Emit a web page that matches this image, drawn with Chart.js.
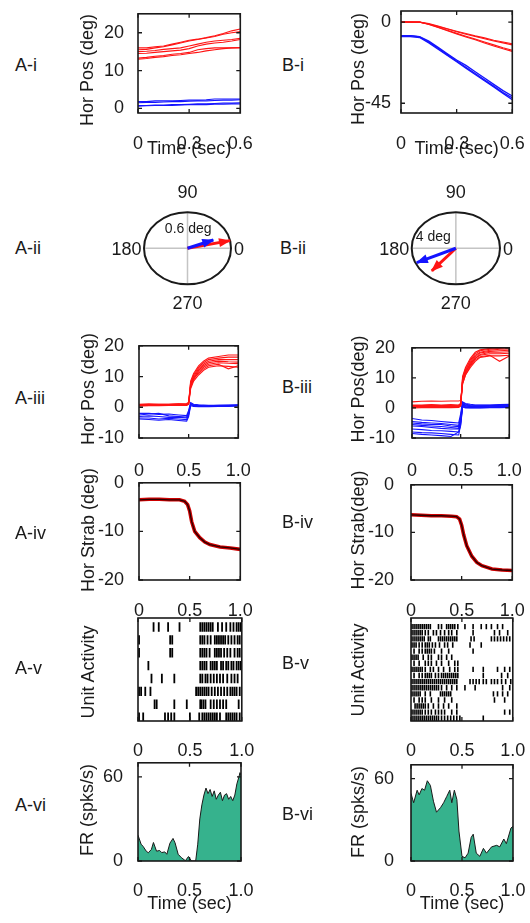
<!DOCTYPE html>
<html>
<head>
<meta charset="utf-8">
<script src="https://cdn.jsdelivr.net/npm/chart.js@4.4.1/dist/chart.umd.min.js"></script>
<style>
  body { margin: 0; background: #fff; }
  #fig { position: relative; width: 530px; height: 923px; overflow: hidden; }
  #fig canvas { position: absolute; }
  .lbl { position: absolute; font: 18px 'Liberation Sans', Arial, sans-serif; line-height: 18px; color: #1a1a1a; white-space: nowrap; }
  .ytl { transform: translate(-50%, -50%) rotate(-90deg); }
</style>
</head>
<body>
<div id="fig"></div>
<script>
// ---- i: horizontal position during the first 0.6 s ----
const I_T = [0, 0.05, 0.1, 0.15, 0.2, 0.25, 0.3, 0.35, 0.4, 0.45, 0.5, 0.55, 0.6];
const I_XTICKS = [0, 0.3, 0.6];
const AI_YTICKS = [0, 10, 20];
const BI_YTICKS = [-45, 0];
const AI_RED = [
  [16, 16, 16.3, 16.5, 17, 17.5, 18, 18.3, 18.7, 19.2, 19.8, 20.5, 21],
  [15.5, 15.6, 16, 16.3, 16.8, 17.3, 17.8, 18.2, 18.6, 19, 19.6, 20, 20.3],
  [15, 15.1, 15.3, 15.6, 15.8, 16, 16.5, 17, 17.5, 17.8, 18, 18.2, 18.5],
  [14.5, 14.6, 14.8, 15, 15.2, 15.4, 15.8, 16.5, 17, 17.3, 17.5, 17.8, 18.2],
  [13, 13.2, 13.5, 13.7, 14, 14.2, 14.5, 14.8, 15.2, 15.5, 15.8, 16, 16.1],
  [13.3, 13.5, 13.8, 14, 14.3, 14.5, 14.8, 15.5, 15.8, 16, 16, 16, 16]
];
const AI_BLUE = [
  [1.8, 1.8, 2, 2, 2, 2.1, 2.2, 2.2, 2.3, 2.5, 2.5, 2.5, 2.5],
  [1.5, 1.6, 1.6, 1.7, 1.8, 1.8, 1.9, 2, 2, 2.1, 2.2, 2.2, 2.3],
  [0.8, 0.8, 0.9, 0.9, 1, 1, 1.1, 1.2, 1.2, 1.3, 1.4, 1.4, 1.5],
  [0.6, 0.7, 0.8, 0.8, 0.8, 0.9, 1, 1, 1, 1.1, 1.1, 1.2, 1.2]
];
const BI_RED = [
  [0, 0, 0, -0.8, -2.2, -3.6, -5, -6.3, -7.6, -8.7, -10, -11, -12],
  [0, 0, 0, -1, -2.4, -3.8, -5.3, -6.7, -8, -9.2, -10.4, -11.5, -12.6],
  [0, 0, 0, -1.2, -2.8, -4.5, -6.2, -7.8, -9.3, -11, -12.6, -14.2, -15.6],
  [0.2, 0.2, 0.1, -1.3, -3, -4.8, -6.5, -8.2, -9.8, -11.5, -13.2, -14.8, -16.2]
];
const BI_BLUE = [
  [-7.5, -7.5, -8, -10.5, -14, -17.5, -21, -24, -27.5, -31, -34.5, -38, -41],
  [-7.5, -7.5, -8.2, -11, -14.5, -18, -21.5, -25, -28.5, -32, -35.5, -39, -42],
  [-8, -8, -8.5, -11.5, -15, -18.5, -22, -25.5, -29, -32.5, -36, -39.5, -43]
];

// ---- ii: mean drift vectors (deg) ----
const AII_RADIUS = 0.6;
const AII_RED = [0.586, 0.127];
const AII_BLUE = [0.356, 0.138];
const BII_RADIUS = 4;
const BII_RED = [-2.18, -2.52];
const BII_BLUE = [-3.54, -1.6];

// ---- iii: horizontal position around the 0.5 s step ----
const T_XTICKS = [0, 0.5, 1];
const III_YTICKS = [-10, 0, 10, 20];
const III_T = [0, 0.1, 0.2, 0.3, 0.4, 0.48, 0.5, 0.52, 0.55, 0.6, 0.65, 0.7, 0.8, 0.9, 1.0];
const AIII_RED = [
  [0.8, 0.8, 0.9, 0.8, 0.8, 0.9, 1.5, 8.5, 11, 13.5, 15, 16, 16.5, 17, 17],
  [0.6, 0.7, 0.7, 0.8, 0.7, 0.8, 1.2, 8, 10.5, 13, 14.5, 15.5, 16, 16.3, 16.3],
  [1, 1.1, 1, 1, 1.1, 1, 1.5, 7.5, 10, 12.5, 14, 15, 15.5, 15.5, 15.5],
  [0.5, 0.6, 0.6, 0.7, 0.6, 0.7, 1, 7, 9.5, 12, 13.5, 14.5, 15, 14.8, 14.7],
  [0.7, 0.7, 0.8, 0.8, 0.9, 0.8, 1.2, 6.5, 9, 11.5, 13, 14, 14.5, 14.3, 14.2],
  [0.9, 0.9, 1, 1, 1.1, 1.2, 1.6, 7, 9.5, 11, 12.5, 13.5, 14, 12.5, 13.5],
  [0.4, 0.5, 0.5, 0.6, 0.6, 0.6, 1, 6, 8.5, 10.5, 12, 13, 13.5, 13.3, 13]
];
const AIII_BLUE = [
  [-2, -2, -2.3, -2.2, -2.5, -2.7, -1, 1.5, 1, 0.8, 0.7, 0.6, 0.6, 0.7, 0.8],
  [-2.5, -2.2, -2, -2.8, -3, -3.2, -1.5, 1.2, 0.8, 0.6, 0.5, 0.5, 0.6, 0.6, 0.7],
  [-3, -2.8, -3, -3.3, -3.2, -3.5, -2, 1, 0.6, 0.5, 0.4, 0.4, 0.5, 0.5, 0.6],
  [-3.5, -3.5, -3.8, -3.6, -3.8, -4, -2.5, 0.8, 0.5, 0.4, 0.3, 0.3, 0.4, 0.4, 0.5],
  [-3.8, -4, -4.2, -4, -4.3, -4.5, -3, 0.5, 0.3, 0.2, 0.2, 0.2, 0.3, 0.3, 0.4]
];
const BIII_RED = [
  [0.5, 0.5, 0.6, 0.5, 0.6, 0.6, 1, 10, 13, 16, 18, 19, 19.5, 19.8, 20],
  [0.8, 0.8, 0.9, 0.8, 0.8, 0.9, 1.3, 9.5, 12.5, 15.5, 17.5, 18.5, 19.2, 19.5, 19.6],
  [0.2, 0.3, 0.3, 0.2, 0.3, 0.4, 0.8, 9, 12, 15, 17, 18.3, 18.8, 19, 19.2],
  [1, 1, 1.1, 1, 1.1, 1, 1.5, 8.5, 11.5, 14.5, 16.5, 17.8, 18.5, 18.5, 18.7],
  [0.4, 0.4, 0.4, 0.5, 0.4, 0.5, 0.9, 9, 12, 14.5, 16.5, 17.5, 18, 18, 18.2],
  [2, 2.2, 2.3, 2.2, 2.3, 2.3, 2.5, 8, 11, 14, 16, 17, 17.5, 15.5, 17.3],
  [0, 0.1, 0.1, 0.2, 0.1, 0.2, 0.6, 8, 11, 13.5, 15.5, 16.8, 17.3, 17.3, 17.5],
  [0.6, 0.6, 0.7, 0.7, 0.6, 0.7, 1.1, 10.5, 13.5, 16.5, 18.5, 19.3, 19.8, 20, 20]
];
const BIII_BLUE = [
  [-3.5, -4, -4.2, -4.5, -4.8, -5, -2, 2, 1.5, 1.2, 1, 1, 1, 1.1, 1.2],
  [-4.5, -4.8, -5, -5.2, -5.5, -5.8, -3, 1.8, 1.2, 1, 0.9, 0.9, 0.9, 1, 1],
  [-5, -5.3, -5.5, -5.5, -6, -6.2, -3.5, 1.5, 1, 0.8, 0.7, 0.7, 0.8, 0.8, 0.9],
  [-5.5, -5.8, -6, -6.2, -6.5, -6.8, -4, 1.3, 0.8, 0.6, 0.5, 0.5, 0.6, 0.6, 0.7],
  [-6, -6.2, -6.5, -6.8, -7, -7, -4.5, 1, 0.6, 0.5, 0.4, 0.4, 0.4, 0.5, 0.6],
  [-7, -7.2, -7.5, -7.6, -7.8, -8, -5, 0.8, 0.4, 0.3, 0.2, 0.2, 0.3, 0.3, 0.4],
  [-8, -8.2, -8.3, -8.5, -8.8, -9, -5.5, 0.5, 0.2, 0.1, 0.1, 0.1, 0.2, 0.2, 0.3],
  [-8.5, -8.8, -9, -9.2, -9.5, -8, -6, 0.3, 0, 0, 0, 0, 0.1, 0.1, 0.2]
];

// ---- iv: horizontal strabismus ----
const IV_YTICKS = [-20, -10, 0];
const IV_T = [0, 0.1, 0.2, 0.3, 0.4, 0.45, 0.48, 0.5, 0.52, 0.55, 0.6, 0.65, 0.7, 0.8, 0.9, 1.0];
const AIV_STRAB = [-3.5, -3.4, -3.4, -3.5, -3.5, -3.8, -4.5, -5.8, -8, -10, -11.3, -12.2, -12.7, -13.2, -13.4, -13.7];
const BIV_STRAB = [-6.3, -6.4, -6.5, -6.5, -6.6, -6.7, -7.2, -8.5, -10.5, -12.8, -15, -16.3, -17, -17.7, -17.9, -18];

// ---- v: spike rasters, one row per trial (spike times in s) ----
const AV_SPIKES = [
  [0.15, 0.2, 0.29, 0.4, 0.6, 0.62, 0.64, 0.66, 0.68, 0.7, 0.72, 0.77, 0.81, 0.85, 0.89, 0.92, 0.95, 0.97, 0.99],
  [0.01, 0.31, 0.33, 0.6, 0.62, 0.64, 0.67, 0.7, 0.74, 0.76, 0.78, 0.8, 0.82, 0.84, 0.87, 0.9, 0.93, 0.96, 0.98],
  [0.01, 0.31, 0.33, 0.6, 0.62, 0.64, 0.66, 0.69, 0.74, 0.76, 0.78, 0.8, 0.83, 0.86, 0.89, 0.93, 0.96, 0.98],
  [0.1, 0.6, 0.62, 0.64, 0.66, 0.7, 0.72, 0.74, 0.76, 0.8, 0.82, 0.85, 0.87, 0.9, 0.92, 0.95, 0.97, 0.99],
  [0.13, 0.23, 0.35, 0.6, 0.62, 0.65, 0.67, 0.7, 0.73, 0.76, 0.79, 0.82, 0.86, 0.9, 0.93, 0.96],
  [0.01, 0.03, 0.07, 0.12, 0.56, 0.58, 0.6, 0.62, 0.64, 0.66, 0.68, 0.71, 0.74, 0.77, 0.8, 0.83, 0.86, 0.89, 0.91, 0.93, 0.95, 0.98],
  [0.16, 0.18, 0.35, 0.47, 0.6, 0.61, 0.63, 0.65, 0.7, 0.73, 0.76, 0.79, 0.82, 0.85, 0.97],
  [0.01, 0.05, 0.26, 0.29, 0.32, 0.35, 0.5, 0.59, 0.62, 0.64, 0.66, 0.68, 0.7, 0.72, 0.74, 0.76, 0.79, 0.85, 0.87, 0.89, 0.91, 0.93, 0.95, 0.98]
];
const BV_SPIKES = [
  [0.01, 0.03, 0.05, 0.07, 0.09, 0.11, 0.13, 0.15, 0.17, 0.19, 0.27, 0.3, 0.35, 0.37, 0.39, 0.41, 0.43, 0.46, 0.53, 0.61, 0.69, 0.74, 0.79, 0.85, 0.9],
  [0.01, 0.03, 0.05, 0.07, 0.09, 0.11, 0.14, 0.17, 0.22, 0.25, 0.29, 0.33, 0.37, 0.4, 0.45, 0.61, 0.82, 0.87, 0.95],
  [0.01, 0.03, 0.05, 0.07, 0.09, 0.11, 0.13, 0.17, 0.19, 0.27, 0.29, 0.31, 0.33, 0.35, 0.37, 0.39, 0.41, 0.43, 0.45, 0.59, 0.62, 0.79, 0.82, 0.85, 0.88, 0.91, 0.94, 0.97],
  [0.01, 0.03, 0.05, 0.08, 0.11, 0.14, 0.16, 0.18, 0.21, 0.24, 0.28, 0.33, 0.36, 0.41, 0.58, 0.69],
  [0.03, 0.08, 0.11, 0.14, 0.16, 0.18, 0.2, 0.23, 0.3, 0.37, 0.61],
  [0.01, 0.03, 0.05, 0.07, 0.12, 0.17, 0.2, 0.27, 0.3, 0.35, 0.4],
  [0.03, 0.08, 0.14, 0.17, 0.2, 0.25, 0.3, 0.37, 0.43, 0.46],
  [0.01, 0.03, 0.05, 0.07, 0.09, 0.11, 0.14, 0.19, 0.22, 0.27, 0.32, 0.38, 0.43, 0.46, 0.61, 0.71, 0.85, 0.92, 0.97],
  [0.03, 0.08, 0.11, 0.14, 0.16, 0.18, 0.2, 0.24, 0.27, 0.3, 0.32, 0.34, 0.36, 0.38, 0.4, 0.42, 0.44, 0.46, 0.71, 0.89, 0.95],
  [0.01, 0.03, 0.05, 0.07, 0.09, 0.11, 0.13, 0.15, 0.17, 0.19, 0.21, 0.23, 0.25, 0.27, 0.29, 0.31, 0.33, 0.35, 0.37, 0.39, 0.41, 0.43, 0.45, 0.58, 0.61, 0.64, 0.67, 0.71, 0.74, 0.79, 0.82, 0.85, 0.89, 0.93, 0.98],
  [0.01, 0.03, 0.05, 0.07, 0.09, 0.11, 0.13, 0.15, 0.17, 0.19, 0.21, 0.23, 0.25, 0.27, 0.3, 0.35, 0.4, 0.45, 0.53, 0.63, 0.9, 0.97],
  [0.01, 0.03, 0.05, 0.07, 0.09, 0.14, 0.19, 0.29, 0.31, 0.33, 0.35, 0.37, 0.39, 0.81, 0.85, 0.9, 0.95],
  [0.03, 0.08, 0.11, 0.14, 0.2, 0.27, 0.33, 0.4, 0.82, 0.92],
  [0.04, 0.06, 0.08, 0.1, 0.12, 0.14, 0.17, 0.22, 0.27, 0.32, 0.37, 0.45],
  [0.01, 0.03, 0.05, 0.07, 0.09, 0.11, 0.14, 0.17, 0.2, 0.24, 0.27, 0.3, 0.33, 0.4, 0.45, 0.92, 0.97],
  [0.01, 0.03, 0.05, 0.07, 0.09, 0.11, 0.13, 0.15, 0.17, 0.19, 0.21, 0.23, 0.25, 0.27, 0.3, 0.33, 0.36, 0.39, 0.42, 0.45, 0.48, 0.71]
];

// ---- vi: firing rate (spks/s) ----
const VI_YTICKS = [0, 60];
const AVI_T = [0, 0.03, 0.05, 0.08, 0.1, 0.13, 0.15, 0.18, 0.21, 0.23, 0.26, 0.28, 0.31, 0.34, 0.36, 0.39, 0.42, 0.46, 0.49, 0.52, 0.56, 0.58, 0.6, 0.62, 0.64, 0.66, 0.68, 0.7, 0.72, 0.74, 0.76, 0.78, 0.8, 0.82, 0.84, 0.86, 0.88, 0.9, 0.92, 0.94, 0.96, 0.98, 0.99, 1.0];
const AVI_FR = [18.4, 12, 10.4, 7, 5.9, 8.2, 13.2, 7, 7.5, 6, 6.5, 4.8, 12.7, 16.1, 12.9, 4.8, 2.5, 0.2, 3.2, 0, 0, 12, 30, 40, 47, 52, 48, 51, 46, 50, 44, 47, 49, 43, 47, 48, 44, 46, 43, 47, 55, 60, 63, 61];
const BVI_T = [0, 0.026, 0.06, 0.08, 0.107, 0.133, 0.16, 0.19, 0.22, 0.25, 0.29, 0.32, 0.35, 0.38, 0.4, 0.425, 0.45, 0.47, 0.5, 0.53, 0.56, 0.59, 0.61, 0.64, 0.675, 0.71, 0.74, 0.79, 0.84, 0.87, 0.91, 0.935, 0.98, 1.0];
const BVI_FR = [49.2, 42.4, 51.5, 48.1, 52.7, 51.5, 58.4, 55, 43.5, 35.5, 38.9, 42.4, 46.9, 51.5, 42.4, 51.5, 44.7, 21.8, 3.4, 2.3, 5.7, 17.2, 19.5, 5.7, 3.4, 9.2, 5.7, 10.3, 11.4, 10.3, 16, 12.6, 24, 25.2];

const RED = 'rgb(255,20,20)';
const BLUE = 'rgb(20,20,255)';
const GREEN = 'rgb(54,178,141)';
const INK = '#1a1a1a';
const FONT = "'Liberation Sans', Arial, sans-serif";

Chart.defaults.font.family = FONT;
Chart.defaults.font.size = 18;
Chart.defaults.color = INK;

const fig = document.getElementById('fig');

function addCanvas(l, t, w, h) {
  const c = document.createElement('canvas');
  c.width = w; c.height = h;
  c.style.left = l + 'px'; c.style.top = t + 'px';
  c.style.width = w + 'px'; c.style.height = h + 'px';
  fig.appendChild(c);
  return c;
}

function addLabel(text, x, y, rotated) {
  const d = document.createElement('div');
  d.className = rotated ? 'lbl ytl' : 'lbl';
  d.textContent = text;
  d.style.left = x + 'px';
  d.style.top = (rotated ? y : y - 9) + 'px';
  fig.appendChild(d);
}

// MATLAB style box with inward ticks on all four sides
const framePlugin = {
  id: 'frame',
  afterDatasetsDraw(chart, args, o) {
    const {ctx, chartArea: a, scales: {x, y}} = chart;
    ctx.save();
    ctx.strokeStyle = INK;
    ctx.lineWidth = 1.6;
    ctx.strokeRect(a.left, a.top, a.right - a.left, a.bottom - a.top);
    ctx.lineWidth = 1.3;
    ctx.beginPath();
    (o.xt || []).forEach(v => {
      const p = x.getPixelForValue(v);
      ctx.moveTo(p, a.bottom); ctx.lineTo(p, a.bottom - 4);
      ctx.moveTo(p, a.top); ctx.lineTo(p, a.top + 4);
    });
    (o.yt || []).forEach(v => {
      const p = y.getPixelForValue(v);
      ctx.moveTo(a.left, p); ctx.lineTo(a.left + 4, p);
      ctx.moveTo(a.right, p); ctx.lineTo(a.right - 4, p);
    });
    ctx.stroke();
    ctx.restore();
  }
};

const fmtX = v => (v === 0 ? '0' : v.toFixed(1));

function traces(t, rows, color, width) {
  return rows.map(r => ({
    data: r.map((v, i) => ({x: t[i], y: v})),
    borderColor: color, borderWidth: width || 1.1, pointRadius: 0, fill: false
  }));
}

function timePanel(p) {
  const b = p.box;
  const cl = Math.round(b.l - 60), ct = Math.round(b.t - 14);
  const xH = p.xTitle ? p.xTitleY + 10.8 - b.b : p.xLabelY + 14 - b.b;
  const cw = Math.round(b.r + 24 - cl), ch = Math.round(b.b + xH - ct);
  const cv = addCanvas(cl, ct, cw, ch);
  new Chart(cv, {
    type: p.type || 'line',
    data: {datasets: p.datasets},
    options: {
      responsive: false, devicePixelRatio: 1, animation: false,
      layout: {padding: {left: 0, top: b.t - ct, right: cl + cw - b.r, bottom: Math.max(0, ct + ch - b.b - xH)}},
      plugins: {legend: {display: false}, tooltip: {enabled: false}, frame: {xt: p.xTicks, yt: p.yTicks}},
      scales: {
        x: {
          type: 'linear', min: p.xMin || 0, max: p.xMax, grid: {display: false}, border: {display: false},
          afterBuildTicks: s => { s.ticks = p.xTicks.map(v => ({value: v})); },
          afterFit: s => { s.height = xH; },
          ticks: {padding: p.xLabelY - b.b - 10.8, autoSkip: false, maxRotation: 0, callback: fmtX},
          title: p.xTitle ? {display: true, text: p.xTitle, padding: 0} : {display: false}
        },
        y: {
          type: 'linear', min: p.yMin, max: p.yMax, reverse: !!p.yReverse,
          grid: {display: false}, border: {display: false},
          afterBuildTicks: s => { s.ticks = (p.yTicks || []).map(v => ({value: v})); },
          afterFit: s => { s.width = b.l - cl; },
          ticks: {display: !!p.yTicks, padding: p.yPad || 7, autoSkip: false}
        }
      }
    },
    plugins: [framePlugin]
  });
}

// polar drift plot: ellipse, gray crosshair, direction labels and arrow heads
const compassPlugin = {
  id: 'compass',
  beforeDatasetsDraw(chart, args, o) {
    const {ctx, scales: {x, y}} = chart;
    const cx = x.getPixelForValue(0), cy = y.getPixelForValue(0);
    const rx = x.getPixelForValue(o.radius) - cx, ry = cy - y.getPixelForValue(o.radius);
    ctx.save();
    ctx.strokeStyle = '#c4c4c4';
    ctx.lineWidth = 1.5;
    ctx.beginPath();
    ctx.moveTo(cx - rx, cy); ctx.lineTo(cx + rx, cy);
    ctx.moveTo(cx, cy - ry); ctx.lineTo(cx, cy + ry);
    ctx.stroke();
    ctx.strokeStyle = INK;
    ctx.lineWidth = 2;
    ctx.beginPath();
    ctx.ellipse(cx, cy, rx, ry, 0, 0, Math.PI * 2);
    ctx.stroke();
    ctx.restore();
  },
  afterDatasetsDraw(chart, args, o) {
    const {ctx, scales: {x, y}} = chart;
    const cx = x.getPixelForValue(0), cy = y.getPixelForValue(0);
    const rx = x.getPixelForValue(o.radius) - cx, ry = cy - y.getPixelForValue(o.radius);
    ctx.save();
    chart.data.datasets.forEach((ds, i) => {
      const pts = chart.getDatasetMeta(i).data;
      const a = pts[0], b = pts[pts.length - 1];
      const len = Math.hypot(b.x - a.x, b.y - a.y);
      const ux = (b.x - a.x) / len, uy = (b.y - a.y) / len;
      const L = 11, W = 4.5;
      ctx.fillStyle = ds.borderColor;
      ctx.beginPath();
      ctx.moveTo(b.x + ux, b.y + uy);
      ctx.lineTo(b.x - L * ux - W * uy, b.y - L * uy + W * ux);
      ctx.lineTo(b.x - L * ux + W * uy, b.y - L * uy - W * ux);
      ctx.closePath();
      ctx.fill();
    });
    ctx.fillStyle = INK;
    ctx.font = '18px ' + FONT;
    ctx.textBaseline = 'middle';
    ctx.textAlign = 'center';
    ctx.fillText('90', cx, cy - ry - 19);
    ctx.fillText('270', cx, cy + ry + 19.5);
    ctx.textAlign = 'right';
    ctx.fillText('180', cx - rx - 2.5, cy + 1.5);
    ctx.textAlign = 'left';
    ctx.fillText('0', cx + rx + 3, cy + 1.5);
    ctx.font = '14px ' + FONT;
    ctx.textAlign = 'center';
    ctx.fillText(o.note.text, x.getPixelForValue(o.note.x), y.getPixelForValue(o.note.y));
    ctx.restore();
  }
};

function polarPanel(p) {
  const a = p.area;
  const cl = Math.round(a.l - 50), ct = Math.round(a.t - 40);
  const cw = Math.round(a.r + 40 - cl), ch = Math.round(a.b + 40 - ct);
  const cv = addCanvas(cl, ct, cw, ch);
  new Chart(cv, {
    type: 'scatter',
    data: {
      datasets: p.arrows.map(ar => ({
        data: [{x: 0, y: 0}, {x: ar.v[0], y: ar.v[1]}],
        showLine: true, borderColor: ar.color, borderWidth: 3, pointRadius: 0, clip: false
      }))
    },
    options: {
      responsive: false, devicePixelRatio: 1, animation: false,
      layout: {padding: {left: a.l - cl, top: a.t - ct, right: cl + cw - a.r, bottom: ct + ch - a.b}},
      scales: {
        x: {display: false, min: -p.radius, max: p.radius},
        y: {display: false, min: -p.radius, max: p.radius}
      },
      plugins: {legend: {display: false}, tooltip: {enabled: false}, compass: {radius: p.radius, note: p.note}}
    },
    plugins: [compassPlugin]
  });
}

function raster(rows) {
  return [{
    data: rows.flatMap((r, i) => r.map(t => ({x: t, y: i + 1}))),
    pointStyle: 'line', pointRotation: 90, pointBorderColor: '#000', pointBackgroundColor: '#000',
    showLine: false
  }];
}

function strab(t, v) {
  const pts = v.map((s, i) => ({x: t[i], y: s}));
  return [
    {data: pts, borderColor: 'rgba(0,0,0,0.8)', borderWidth: 1.3, pointRadius: 0, order: 0},
    {data: pts, borderColor: 'rgb(205,0,0)', borderWidth: 3.6, pointRadius: 0, order: 1}
  ];
}

// ---- column A ----
timePanel({box: {l: 138, t: 11, r: 241, b: 113}, xMax: 0.6, xTicks: I_XTICKS, yMin: -1.2, yMax: 25, yTicks: AI_YTICKS,
  yPad: 6, xLabelY: 136, xTitle: 'Time (sec)', xTitleY: 149,
  datasets: traces(I_T, AI_RED, RED).concat(traces(I_T, AI_BLUE, BLUE))});
polarPanel({area: {l: 144, t: 212.3, r: 231, b: 284.2}, radius: AII_RADIUS, note: {text: '0.6 deg', x: 0.01, y: 0.32},
  arrows: [{v: AII_BLUE, color: BLUE}, {v: AII_RED, color: RED}]});
timePanel({box: {l: 139, t: 342, r: 241, b: 438}, xMax: 1, xTicks: T_XTICKS, yMin: -10, yMax: 20, yTicks: III_YTICKS,
  yPad: 7, xLabelY: 463,
  datasets: traces(III_T, AIII_RED, RED).concat(traces(III_T, AIII_BLUE, BLUE))});
timePanel({box: {l: 139, t: 479, r: 241, b: 580}, xMax: 1, xTicks: T_XTICKS, yMin: -20, yMax: 0, yTicks: IV_YTICKS,
  yPad: 7, xLabelY: 603, datasets: strab(IV_T, AIV_STRAB)});
timePanel({type: 'scatter', box: {l: 138, t: 618, r: 242, b: 721}, xMax: 1, xTicks: T_XTICKS, yMin: 0.3, yMax: 8.3, yReverse: true,
  xLabelY: 743.5, datasets: raster(AV_SPIKES).map(d => Object.assign(d, {pointRadius: 4.7, pointBorderWidth: 1.8}))});
timePanel({box: {l: 138, t: 759, r: 241, b: 861}, xMax: 1, xTicks: T_XTICKS, yMin: 0, yMax: 70, yTicks: VI_YTICKS,
  yPad: 7, xLabelY: 883, xTitle: 'Time (sec)', xTitleY: 904,
  datasets: [{data: AVI_FR.map((v, i) => ({x: AVI_T[i], y: v})), borderColor: INK, borderWidth: 1, backgroundColor: GREEN, fill: 'origin', pointRadius: 0}]});

// ---- column B ----
timePanel({box: {l: 401, t: 11, r: 513, b: 113}, xMax: 0.6, xTicks: I_XTICKS, yMin: -50.4, yMax: 6.2, yTicks: BI_YTICKS,
  yPad: 2, xLabelY: 136, xTitle: 'Time (sec)', xTitleY: 149,
  datasets: traces(I_T, BI_RED, RED).concat(traces(I_T, BI_BLUE, BLUE, 1.3))});
polarPanel({area: {l: 411.7, t: 212.3, r: 500, b: 284.2}, radius: BII_RADIUS, note: {text: '4 deg', x: -2.04, y: 1.29},
  arrows: [{v: BII_BLUE, color: BLUE}, {v: BII_RED, color: RED}]});
timePanel({box: {l: 412, t: 342, r: 512, b: 438}, xMax: 1, xTicks: T_XTICKS, yMin: -10, yMax: 20, yTicks: III_YTICKS,
  yPad: 9, xLabelY: 463,
  datasets: traces(III_T, BIII_RED, RED).concat(traces(III_T, BIII_BLUE, BLUE))});
timePanel({box: {l: 411, t: 479, r: 513, b: 580}, xMax: 1, xTicks: T_XTICKS, yMin: -20, yMax: 0, yTicks: IV_YTICKS,
  yPad: 9, xLabelY: 603, datasets: strab(IV_T, BIV_STRAB)});
timePanel({type: 'scatter', box: {l: 411, t: 618, r: 513, b: 721}, xMax: 1, xTicks: T_XTICKS, yMin: -0.42, yMax: 16.45, yReverse: true,
  xLabelY: 743.5, datasets: raster(BV_SPIKES).map(d => Object.assign(d, {pointRadius: 2.7, pointBorderWidth: 1.6}))});
timePanel({box: {l: 411, t: 759, r: 513, b: 861}, xMax: 1, xTicks: T_XTICKS, yMin: 0, yMax: 70, yTicks: VI_YTICKS,
  yPad: 9, xLabelY: 883, xTitle: 'Time (sec)', xTitleY: 904,
  datasets: [{data: BVI_FR.map((v, i) => ({x: BVI_T[i], y: v})), borderColor: INK, borderWidth: 1, backgroundColor: GREEN, fill: 'origin', pointRadius: 0}]});

// panel tags and rotated y-axis titles
[['A-i', 15, 65], ['B-i', 282, 65], ['A-ii', 15, 248], ['B-ii', 280, 248],
 ['A-iii', 15, 398], ['B-iii', 282, 387], ['A-iv', 15, 533], ['B-iv', 282, 522],
 ['A-v', 15, 668], ['B-v', 282, 663], ['A-vi', 15, 805], ['B-vi', 282, 814]]
  .forEach(([t, x, y]) => addLabel(t, x, y));
[['Hor Pos (deg)', 87, 70], ['Hor Pos (deg)', 87.5, 389], ['Hor Strab (deg)', 87.5, 530],
 ['Unit Activity', 87.5, 672], ['FR (spks/s)', 87, 810],
 ['Hor Pos (deg)', 357.5, 69], ['Hor Pos(deg)', 357.5, 388.5], ['Hor Strab(deg)', 357.5, 530],
 ['Unit Activity', 357.5, 670], ['FR (spks/s)', 357.5, 811.5]]
  .forEach(([t, x, y]) => addLabel(t, x, y, true));
</script>
</body>
</html>
